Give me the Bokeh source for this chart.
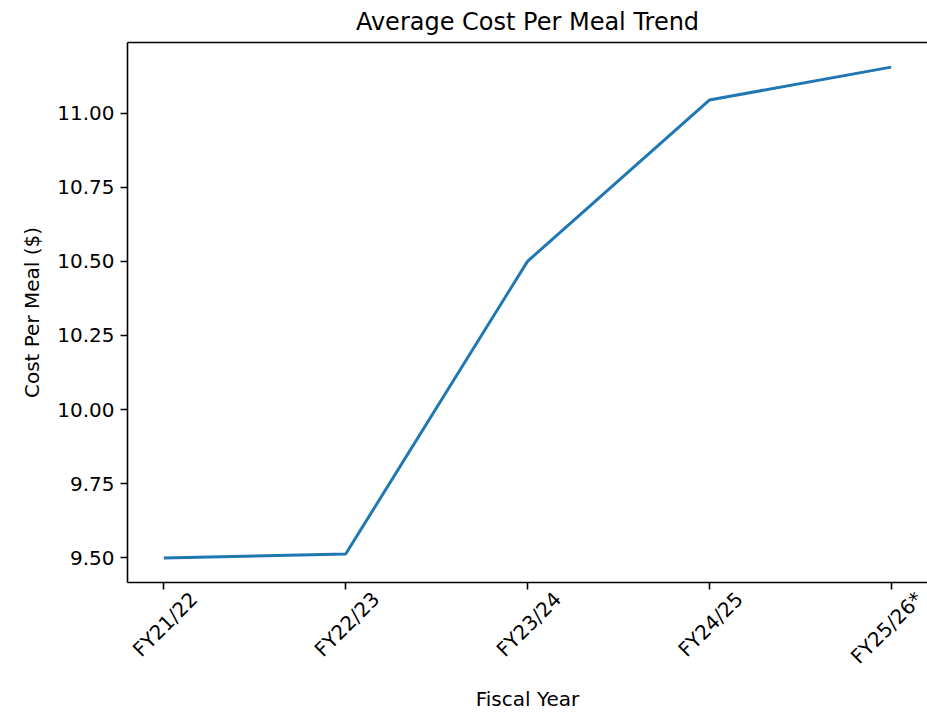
import math
from bokeh.plotting import figure
from bokeh.models import FixedTicker, LinearAxis, PrintfTickFormatter, Range1d
from bokeh.embed import file_html
from bokeh.resources import INLINE

categories = ["FY21/22", "FY22/23", "FY23/24", "FY24/25", "FY25/26*"]
cost_per_meal = [9.50, 9.513, 10.50, 11.044, 11.155]
y_ticks = [9.50, 9.75, 10.00, 10.25, 10.50, 10.75, 11.00]

xs = list(range(len(categories)))

FONT = "DejaVu Sans"
# rotated labels are centred on their tick (matplotlib style): shift the label anchors
LABEL_SHIFT = 0.165
label_pos = [x + LABEL_SHIFT for x in xs]

p = figure(
    width=927, height=714,
    output_backend="svg", toolbar_location=None,
    x_range=Range1d(-0.2, 4.2), y_range=Range1d(9.417, 11.238),
    min_border_left=127, min_border_right=0, min_border_top=42, min_border_bottom=132,
    title="Average Cost Per Meal Trend",
)
p.outline_line_color = None
p.grid.visible = False
p.background_fill_color = "white"
p.border_fill_color = "white"

p.title.align = "center"
p.title.vertical_align = "top"
p.title.text_font = FONT
p.title.text_font_size = "24px"
p.title.text_font_style = "normal"
p.title.text_color = "black"
p.title.text_line_height = 1.0
p.title.standoff = 9

p.line(xs, cost_per_meal, line_color="#1f77b4", line_width=3)

def style(ax):
    ax.axis_line_width = 1.6
    ax.axis_line_color = "black"
    ax.major_tick_line_width = 1.6
    ax.major_tick_line_color = "black"
    ax.major_tick_out = 7
    ax.major_tick_in = 0
    ax.minor_tick_line_color = None
    ax.major_label_text_font = FONT
    ax.major_label_text_font_size = "20px"
    ax.major_label_text_color = "black"
    ax.axis_label_text_font = FONT
    ax.axis_label_text_font_size = "20px"
    ax.axis_label_text_font_style = "normal"
    ax.axis_label_text_color = "black"

# bottom spine + tick marks (no labels drawn here)
xb = p.xaxis[0]
style(xb)
xb.ticker = FixedTicker(ticks=xs)
xb.major_label_text_font_size = "0px"
xb.major_label_text_color = None
xb.major_label_standoff = 0

# tick labels + axis title
xl = LinearAxis()
style(xl)
xl.ticker = FixedTicker(ticks=label_pos)
xl.major_label_overrides = {x: c for x, c in zip(label_pos, categories)}
xl.major_label_orientation = math.pi / 4
xl.axis_line_color = None
xl.major_tick_line_color = None
xl.major_tick_out = 0
xl.major_label_standoff = 6
xl.axis_label = "Fiscal Year"
xl.axis_label_standoff = 7
p.add_layout(xl, "below")

yl = p.yaxis[0]
style(yl)
yl.ticker = FixedTicker(ticks=y_ticks)
yl.formatter = PrintfTickFormatter(format="%.2f")
yl.axis_label = "Cost Per Meal ($)"
yl.major_label_standoff = 6
yl.axis_label_standoff = 10

top = LinearAxis(ticker=FixedTicker(ticks=[]), axis_line_width=1.6, axis_line_color="black",
                 major_tick_line_color=None, minor_tick_line_color=None,
                 major_label_text_font_size="0px", major_label_text_color=None)
p.add_layout(top, "above")

open("out.html", "w").write(file_html(p, INLINE))
